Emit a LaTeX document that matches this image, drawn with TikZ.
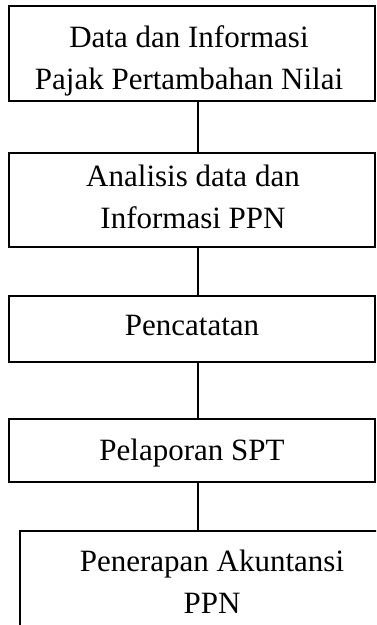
\documentclass[tikz,border=0pt]{standalone}
\usepackage{fontspec}
\setmainfont{Liberation Serif}
\begin{document}
\begin{tikzpicture}[x=1pt,y=-1pt,
  box/.style={draw=black,line width=1.6pt,rectangle,inner sep=0pt},
  txt/.style={inner sep=0pt,align=center,anchor=base,font=\fontsize{31}{42}\selectfont},
  conn/.style={draw=black,line width=1.6pt}]
\useasboundingbox (0,0) rectangle (376,625);
\clip (0,0) rectangle (376,625);
\node[box,minimum width=366pt,minimum height=95pt] (b1) at (192,53.5) {};
\node[box,minimum width=366pt,minimum height=94pt] (b2) at (192,200) {};
\node[box,minimum width=366pt,minimum height=66pt] (b3) at (192,329) {};
\node[box,minimum width=366pt,minimum height=63pt] (b4) at (192,450.5) {};
\node[box,minimum width=384pt,minimum height=110pt] (b5) at (212,586) {};
\node[txt] (t1) at (189,89) {Data dan Informasi\\Pajak Pertambahan Nilai};
\node[txt] (t2) at (193,228) {Analisis data dan\\Informasi PPN};
\node[txt] (t3) at (192,335) {Pencatatan};
\node[txt] (t4) at (192,460) {Pelaporan SPT};
\node[txt] (t5) at (212,613) {Penerapan Akuntansi\\PPN};
\draw[conn] ([xshift=6pt]b1.south) -- ([xshift=6pt]b2.north);
\draw[conn] ([xshift=6pt]b2.south) -- ([xshift=6pt]b3.north);
\draw[conn] ([xshift=6pt]b3.south) -- ([xshift=6pt]b4.north);
\draw[conn] ([xshift=6pt]b4.south) -- ([xshift=6pt]b4.south |- b5.north);
\end{tikzpicture}
\end{document}
